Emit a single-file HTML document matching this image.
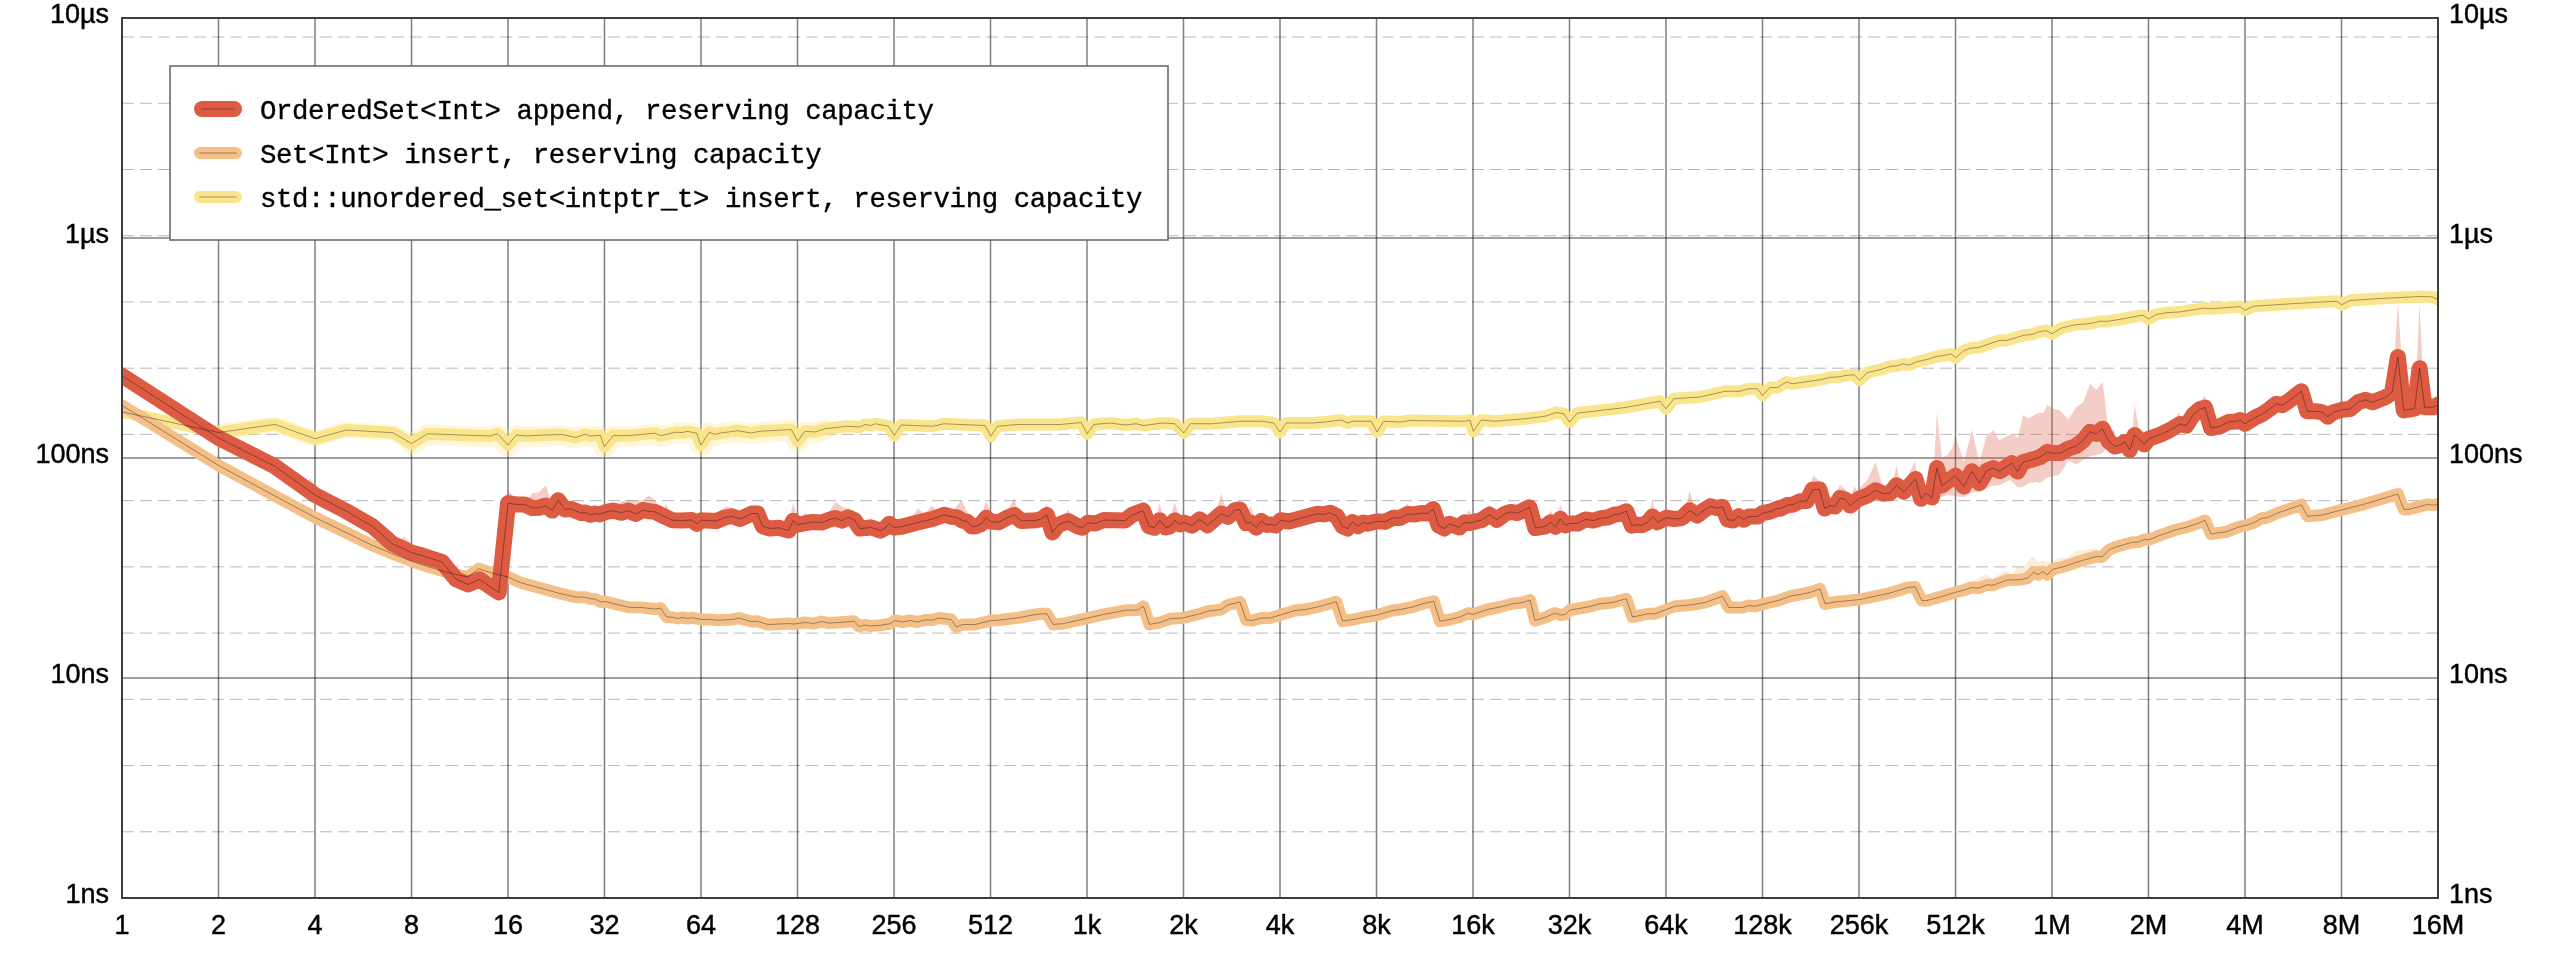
<!DOCTYPE html>
<html><head><meta charset="utf-8"><title>chart</title>
<style>
html,body{margin:0;padding:0;background:#fff;}
body{width:2560px;height:960px;overflow:hidden;}
svg{display:block;will-change:transform;}
.ax{font-family:"Liberation Sans",sans-serif;font-size:27px;fill:#000;stroke:#000;stroke-width:0.45px;}
.lg{font-family:"Liberation Mono",monospace;font-size:27.4px;fill:#000;letter-spacing:-0.4px;stroke:#000;stroke-width:0.35px;}
</style></head><body>
<svg width="2560" height="960" viewBox="0 0 2560 960">
<rect x="0" y="0" width="2560" height="960" fill="#ffffff"/>
<defs><clipPath id="plot"><rect x="122" y="18" width="2316" height="880"/></clipPath></defs>
<g stroke="#000" stroke-opacity="0.28" stroke-width="1" stroke-dasharray="12 6" fill="none">
<line x1="122" y1="831.77" x2="2438" y2="831.77"/>
<line x1="122" y1="765.55" x2="2438" y2="765.55"/>
<line x1="122" y1="699.32" x2="2438" y2="699.32"/>
<line x1="122" y1="633.09" x2="2438" y2="633.09"/>
<line x1="122" y1="566.87" x2="2438" y2="566.87"/>
<line x1="122" y1="500.64" x2="2438" y2="500.64"/>
<line x1="122" y1="434.41" x2="2438" y2="434.41"/>
<line x1="122" y1="368.19" x2="2438" y2="368.19"/>
<line x1="122" y1="301.96" x2="2438" y2="301.96"/>
<line x1="122" y1="235.73" x2="2438" y2="235.73"/>
<line x1="122" y1="169.51" x2="2438" y2="169.51"/>
<line x1="122" y1="103.28" x2="2438" y2="103.28"/>
<line x1="122" y1="37.05" x2="2438" y2="37.05"/>
</g>
<g stroke="#000" stroke-opacity="0.5" stroke-width="1.5" fill="none">
<line x1="218.50" y1="18" x2="218.50" y2="898"/>
<line x1="315.00" y1="18" x2="315.00" y2="898"/>
<line x1="411.50" y1="18" x2="411.50" y2="898"/>
<line x1="508.00" y1="18" x2="508.00" y2="898"/>
<line x1="604.50" y1="18" x2="604.50" y2="898"/>
<line x1="701.00" y1="18" x2="701.00" y2="898"/>
<line x1="797.50" y1="18" x2="797.50" y2="898"/>
<line x1="894.00" y1="18" x2="894.00" y2="898"/>
<line x1="990.50" y1="18" x2="990.50" y2="898"/>
<line x1="1087.00" y1="18" x2="1087.00" y2="898"/>
<line x1="1183.50" y1="18" x2="1183.50" y2="898"/>
<line x1="1280.00" y1="18" x2="1280.00" y2="898"/>
<line x1="1376.50" y1="18" x2="1376.50" y2="898"/>
<line x1="1473.00" y1="18" x2="1473.00" y2="898"/>
<line x1="1569.50" y1="18" x2="1569.50" y2="898"/>
<line x1="1666.00" y1="18" x2="1666.00" y2="898"/>
<line x1="1762.50" y1="18" x2="1762.50" y2="898"/>
<line x1="1859.00" y1="18" x2="1859.00" y2="898"/>
<line x1="1955.50" y1="18" x2="1955.50" y2="898"/>
<line x1="2052.00" y1="18" x2="2052.00" y2="898"/>
<line x1="2148.50" y1="18" x2="2148.50" y2="898"/>
<line x1="2245.00" y1="18" x2="2245.00" y2="898"/>
<line x1="2341.50" y1="18" x2="2341.50" y2="898"/>
<line x1="122" y1="678.00" x2="2438" y2="678.00"/>
<line x1="122" y1="458.00" x2="2438" y2="458.00"/>
<line x1="122" y1="238.00" x2="2438" y2="238.00"/>
</g>
<g clip-path="url(#plot)" fill="none" stroke-linejoin="round" stroke-linecap="round">
<polyline points="218.50,432.50 275.00,424.40 315.00,438.75 346.25,430.00 372.50,431.50 393.10,432.75 411.50,443.50" stroke="#fbe58c" stroke-opacity="0.3" stroke-width="16"/>
<polyline points="411.50,443.50 427.50,433.75 467.50,435.25 490.00,436.00 497.50,433.75 508.00,445.00 516.25,435.00 525.00,436.00 545.00,435.00 562.50,434.50 575.60,437.50 585.00,434.25 590.60,436.00 600.30,435.30 604.40,446.60 613.10,435.60 628.75,435.60 655.00,433.10 660.60,435.75 675.60,432.20 682.50,432.50 686.90,431.40 696.60,433.10 700.90,445.00 709.40,432.20 715.00,434.40 720.00,433.10 737.50,430.75 751.25,433.00 760.00,431.25 791.25,429.50 797.75,441.25 805.00,431.25 815.00,432.00 825.00,428.75" stroke="#fbe58c" stroke-opacity="0.3" stroke-width="21" transform="translate(0,1)"/>
<polygon points="1970.00,583.00 1986.25,573.75 1992.50,578.75 2005.60,570.60 2012.50,575.00 2017.50,566.25 2023.75,566.90 2033.10,556.25 2038.10,562.50 2042.50,560.60 2050.00,562.50 2060.00,558.10 2067.50,557.50 2076.25,551.25 2096.25,548.10 2100.00,552.00 2096.25,558.00 2077.50,563.40 2065.00,567.75 2052.50,570.90 2047.50,576.25 2042.50,573.00 2038.10,576.25 2033.50,573.75 2027.50,579.60 2020.00,581.25 2007.50,581.50 2003.75,582.75 1993.10,586.75 1987.50,586.25 1978.75,589.60 1971.25,589.00" fill="#f5c087" fill-opacity="0.3" stroke="none"/>
<g fill="#dc5b42" fill-opacity="0.3" stroke="none">
<polygon points="306.00,486.00 310.00,478.50 318.00,488.00"/>
<polygon points="398.00,542.00 404.00,536.50 411.00,543.00"/>
<polygon points="505.00,500.00 508.00,490.60 514.00,497.00"/>
<polygon points="528.00,500.00 532.50,493.00 538.75,492.50 545.60,485.25 550.00,497.50 551.00,503.00"/>
<polygon points="618.00,505.00 620.00,502.00 627.50,500.00 642.50,500.60 648.75,495.60 655.60,500.60 658.00,507.00"/>
<polygon points="663.00,510.00 666.25,503.75 670.00,512.00"/>
<polygon points="720.00,511.00 726.25,506.25 733.00,508.00 736.00,512.00"/>
<polygon points="791.00,512.00 793.10,503.75 795.50,512.00"/>
<polygon points="802.00,516.00 805.50,512.50 809.00,515.00"/>
<polygon points="828.00,513.00 835.60,501.90 841.25,506.25 848.00,508.75 852.00,512.00"/>
<polygon points="913.00,516.00 918.10,508.10 923.00,513.00 927.50,511.00 931.90,505.60 936.00,510.50 938.00,513.00"/>
<polygon points="953.00,511.00 961.25,500.00 968.00,513.00"/>
<polygon points="982.00,513.00 986.25,500.60 990.50,513.00"/>
<polygon points="1007.00,511.00 1014.40,498.00 1017.50,510.00"/>
<polygon points="1044.50,509.00 1046.50,503.75 1048.50,509.00"/>
<polygon points="1066.00,513.00 1068.10,509.40 1070.50,513.00"/>
<polygon points="1157.50,512.00 1159.60,503.75 1162.00,512.00"/>
<polygon points="1172.00,512.00 1174.60,502.25 1178.00,513.00"/>
<polygon points="1217.50,506.00 1221.25,493.75 1225.50,508.00"/>
<polygon points="1232.00,503.50 1233.75,501.25 1236.00,502.50"/>
<polygon points="1248.00,514.00 1250.25,505.25 1253.50,515.00"/>
<polygon points="1405.00,507.00 1407.50,503.10 1410.00,507.00"/>
<polygon points="1465.50,516.00 1468.50,510.00 1472.50,515.00"/>
<polygon points="1486.50,508.00 1489.40,504.40 1492.00,508.00"/>
<polygon points="1548.50,515.00 1550.60,510.60 1553.00,515.00"/>
<polygon points="1558.00,512.00 1560.25,505.00 1563.00,512.00"/>
<polygon points="1650.50,509.00 1652.50,499.75 1654.50,509.00"/>
<polygon points="1686.50,503.00 1689.70,490.60 1693.50,504.00"/>
<polygon points="1707.00,500.00 1710.00,497.50 1713.00,500.00"/>
<polygon points="1811.00,483.00 1813.40,475.60 1819.50,481.00 1821.00,484.00"/>
<polygon points="1837.00,491.00 1840.00,484.40 1847.00,491.00"/>
<polygon points="1852.00,493.00 1854.60,486.50 1858.00,492.00"/>
<polygon points="1858.00,490.00 1860.00,487.50 1867.50,480.00 1875.60,461.90 1881.90,483.75 1883.00,494.00"/>
<polygon points="1892.00,487.00 1896.50,465.00 1901.00,488.00"/>
<polygon points="1907.00,482.00 1908.75,473.75 1915.00,461.25 1918.00,480.00"/>
<polygon points="2111.00,440.00 2113.75,426.90 2117.00,446.00"/>
<polygon points="2131.50,445.00 2134.60,405.00 2141.50,442.00"/>
<polygon points="2175.00,420.00 2178.75,412.50 2182.00,418.00"/>
<polygon points="2201.00,402.00 2204.40,395.00 2207.00,402.00"/>
<polygon points="2394.30,358.00 2398.00,303.00 2401.60,358.00"/>
<polygon points="2416.60,369.00 2419.60,304.00 2422.60,369.00"/>
<polygon points="1934.00,480.00 1934.50,458.00 1936.90,412.50 1941.90,458.00 1947.50,455.00 1952.50,447.50 1955.50,435.60 1960.00,450.00 1963.75,461.90 1971.90,430.00 1979.40,462.50 1986.25,436.25 1993.10,430.00 1999.40,440.00 2011.90,433.75 2018.10,437.50 2023.10,415.00 2028.10,418.75 2036.25,413.75 2043.75,412.50 2047.50,405.00 2052.50,408.75 2060.00,410.60 2068.10,419.40 2076.25,406.90 2083.10,402.50 2090.00,383.75 2096.25,390.00 2102.50,381.90 2105.00,400.00 2107.50,423.75 2109.00,441.00 2105.00,450.00 2101.25,453.75 2090.00,456.25 2083.10,460.00 2076.25,464.40 2068.00,460.60 2063.75,468.10 2058.75,475.00 2047.50,477.50 2040.00,483.10 2036.25,481.90 2028.75,483.10 2023.10,486.90 2018.10,487.50 2010.00,480.00 2000.00,485.00 1990.00,486.25 1980.00,491.90 1972.50,492.50 1963.75,496.90 1955.50,496.25 1947.50,495.00 1940.00,497.50 1936.00,497.00"/>
</g>
<polyline points="122.00,411.90 218.50,432.50 275.00,424.40 315.00,438.75 346.25,430.00 372.50,431.50 393.10,432.75 411.50,443.50 427.50,433.75 467.50,435.25 490.00,436.00 497.50,433.75 508.00,445.00 516.25,435.00 525.00,436.00 545.00,435.00 562.50,434.50 575.60,437.50 585.00,434.25 590.60,436.00 600.30,435.30 604.40,446.60 613.10,435.60 628.75,435.60 655.00,433.10 660.60,435.75 675.60,432.20 682.50,432.50 686.90,431.40 696.60,433.10 700.90,445.00 709.40,432.20 715.00,434.40 720.00,433.10 737.50,430.75 751.25,433.00 760.00,431.25 791.25,429.50 797.75,441.25 805.00,431.25 815.00,432.00 825.00,428.75 847.50,426.25 860.00,427.00 865.00,424.50 871.00,425.50 875.00,423.75 888.75,426.25 894.25,435.50 901.25,425.00 932.50,426.25 943.75,423.75 985.00,425.50 990.75,436.25 997.50,426.25 1017.50,424.50 1060.00,424.50 1081.25,422.50 1087.25,433.75 1093.75,424.50 1110.00,423.00 1125.00,425.00 1136.25,423.75 1143.75,425.50 1162.50,423.00 1175.00,423.75 1183.75,433.00 1190.50,423.75 1212.50,423.75 1240.00,421.25 1262.50,421.25 1273.75,423.00 1280.00,432.00 1286.25,423.00 1312.50,423.00 1325.00,422.00 1341.25,420.00 1347.50,423.00 1352.50,421.25 1371.25,421.25 1377.00,432.00 1383.75,421.25 1400.00,422.00 1410.00,420.50 1465.00,421.25 1470.00,420.00 1473.25,431.25 1481.25,420.00 1495.00,421.25 1525.00,418.75 1545.00,416.25 1556.25,412.50 1563.75,413.75 1569.50,422.00 1577.50,413.00 1600.00,410.50 1625.00,407.50 1660.00,401.25 1666.00,408.75 1673.75,398.75 1700.00,397.00 1725.00,391.25 1740.00,391.25 1748.75,388.75 1757.50,388.75 1762.50,395.50 1770.00,387.50 1777.50,387.50 1786.25,382.00 1792.50,383.75 1820.00,379.75 1831.25,377.25 1838.75,376.90 1845.00,375.60 1854.40,374.75 1859.40,380.25 1867.50,372.50 1881.25,369.40 1890.60,366.25 1896.25,366.00 1903.10,364.00 1909.40,365.00 1916.25,361.90 1928.75,359.00 1936.90,356.25 1941.25,356.00 1951.25,354.00 1955.60,357.75 1963.75,350.60 1971.25,348.10 1978.75,347.50 2000.00,340.25 2006.25,340.60 2023.75,335.25 2032.50,334.40 2038.75,331.90 2046.25,330.60 2051.90,333.75 2061.25,328.10 2075.00,324.75 2086.25,324.00 2093.75,322.75 2100.00,321.20 2107.50,321.40 2125.00,318.50 2140.00,315.60 2143.75,315.60 2148.50,319.00 2156.25,314.40 2166.25,312.75 2180.00,311.90 2203.75,308.10 2212.50,308.75 2240.00,306.50 2245.00,310.25 2253.10,306.25 2287.50,304.00 2312.50,302.50 2336.90,301.25 2341.50,304.75 2350.00,300.60 2375.00,298.75 2420.00,296.50 2432.50,296.90 2438.00,299.75" stroke="#fbe58c" stroke-width="12"/>
<polyline points="122.00,405.40 218.50,465.40 275.00,496.00 315.00,517.50 346.00,532.50 371.50,545.00 392.50,553.75 411.00,561.00 427.50,566.50 442.50,571.00 456.00,574.50 467.50,577.00 478.75,568.75 490.00,572.50 508.00,577.00 520.00,582.50 560.00,593.50 575.00,596.90 585.00,597.25 590.00,598.75 595.00,599.00 600.60,601.90 605.00,601.50 615.00,604.00 628.75,607.25 641.25,607.50 655.00,609.00 660.60,608.10 666.50,616.90 672.50,617.25 677.50,618.50 681.90,617.50 687.50,618.50 692.50,617.75 701.25,619.40 708.75,619.40 717.50,620.25 732.50,619.40 738.75,618.10 751.25,621.50 756.90,621.25 767.50,624.40 772.50,624.40 787.50,623.50 793.75,624.00 805.00,622.50 813.75,623.50 821.25,621.50 828.75,623.10 841.25,622.25 853.75,621.25 859.40,626.50 865.00,625.00 870.00,626.00 880.00,625.25 890.00,623.75 895.00,620.50 902.50,622.00 910.00,620.50 917.50,622.00 925.00,620.00 932.50,620.00 938.75,618.00 951.25,619.50 956.25,627.00 962.50,624.50 975.00,624.50 991.25,620.50 1000.00,620.00 1020.00,617.50 1032.50,615.00 1041.25,613.75 1046.90,613.75 1053.10,624.40 1062.50,623.75 1087.50,618.10 1103.75,614.40 1117.50,611.90 1125.00,610.25 1137.50,610.00 1143.50,606.25 1149.40,624.40 1160.00,622.50 1170.00,618.75 1182.50,618.00 1200.00,613.75 1207.50,611.25 1221.25,609.50 1227.50,605.00 1240.00,602.00 1246.25,620.00 1252.50,620.50 1261.25,618.00 1270.00,618.00 1295.00,610.50 1305.00,609.50 1317.50,607.00 1336.25,601.75 1342.50,621.00 1353.75,619.50 1365.00,617.00 1377.50,615.00 1392.50,610.50 1400.00,609.50 1412.50,607.00 1422.50,603.75 1433.75,601.25 1440.00,621.25 1450.00,619.50 1460.00,617.00 1468.75,613.00 1472.50,614.50 1487.50,609.50 1500.00,607.00 1512.50,603.75 1522.50,602.50 1530.00,600.00 1535.00,620.50 1545.00,617.50 1555.00,613.00 1560.00,615.00 1565.00,614.50 1570.00,610.00 1587.50,607.00 1600.00,603.75 1612.50,602.50 1626.25,598.75 1632.50,617.00 1642.50,615.00 1647.50,613.75 1655.00,613.75 1675.00,606.25 1690.00,605.00 1705.00,602.50 1722.50,596.25 1728.75,607.50 1742.50,607.50 1748.75,605.50 1755.00,606.25 1767.50,603.00 1780.00,600.00 1790.00,596.25 1810.00,592.50 1820.00,588.75 1825.00,603.75 1835.00,602.00 1850.00,600.50 1860.00,599.50 1875.00,596.25 1890.00,593.00 1900.00,590.00 1907.50,587.50 1915.00,586.90 1921.90,600.60 1926.90,600.60 1942.50,596.25 1955.60,592.25 1963.75,590.25 1971.25,587.50 1978.75,588.10 1987.50,584.75 1993.10,585.25 2003.75,581.25 2007.50,580.00 2020.00,579.75 2027.50,578.10 2033.50,572.25 2038.10,574.75 2042.50,571.50 2047.50,574.75 2052.50,569.40 2065.00,566.25 2077.50,561.90 2096.25,556.50 2101.90,556.90 2108.75,550.00 2115.00,547.25 2131.25,542.50 2138.75,541.90 2144.40,539.40 2148.75,539.75 2162.50,534.40 2175.00,530.00 2185.00,527.60 2197.50,523.60 2205.00,520.40 2211.10,534.10 2221.25,532.30 2226.25,531.90 2238.75,526.90 2245.00,525.60 2253.75,522.75 2261.25,518.50 2267.50,517.50 2277.50,513.10 2290.00,508.75 2301.25,504.75 2307.50,516.25 2322.50,515.00 2341.25,510.00 2361.25,505.00 2380.00,499.40 2397.75,494.00 2403.75,509.40 2408.75,509.40 2427.50,504.40 2433.75,505.25 2438.00,504.00" stroke="#f5c087" stroke-width="12"/>
<polyline points="122.00,375.60 218.50,437.90 275.00,466.40 315.00,495.00 346.00,511.00 372.50,526.25 392.50,543.75 411.25,552.50 420.00,555.00 441.90,561.90 456.25,579.40 468.10,584.40 479.40,579.40 498.75,592.50 508.10,503.10 516.25,504.40 524.40,504.40 532.50,508.10 538.75,507.75 545.60,505.60 552.25,510.60 558.10,500.25 564.75,509.40 571.25,509.00 581.25,513.10 585.00,512.50 590.60,514.75 595.00,513.50 600.00,514.40 606.25,511.90 613.10,510.60 621.25,512.75 628.10,510.60 635.60,514.00 643.10,510.00 648.75,511.25 655.00,511.90 663.75,516.25 672.50,520.25 682.50,520.60 691.90,520.00 696.90,523.75 701.25,520.25 716.25,521.00 725.00,517.50 731.90,516.25 740.00,519.00 751.90,513.50 757.50,513.50 762.75,526.25 770.00,528.50 778.75,527.75 788.75,530.60 793.10,520.60 797.75,524.75 812.50,521.90 821.90,522.50 830.00,519.40 835.25,518.10 841.90,520.60 848.10,517.25 854.40,520.00 860.00,528.50 866.25,528.10 870.60,527.25 880.60,530.60 885.00,528.10 889.40,523.75 894.40,527.50 902.50,526.50 917.50,522.50 932.50,519.00 944.40,514.75 952.50,516.90 957.50,517.50 962.50,520.60 966.90,521.50 971.90,526.50 976.25,526.25 981.25,524.00 986.25,517.75 990.60,521.50 998.75,522.25 1007.50,517.50 1014.40,515.00 1021.25,521.00 1036.25,520.25 1041.25,519.00 1046.90,515.00 1052.50,532.50 1058.10,525.00 1060.00,524.20 1068.10,521.00 1077.50,526.25 1082.50,527.75 1087.75,522.75 1095.60,523.50 1103.75,520.00 1125.00,520.60 1131.90,515.00 1143.10,510.60 1149.00,526.25 1154.40,527.75 1159.75,520.25 1165.60,527.50 1169.75,526.50 1174.75,520.25 1179.75,524.40 1183.75,522.50 1191.90,525.60 1199.75,519.40 1207.50,525.25 1221.25,513.50 1228.10,516.90 1234.40,510.60 1239.75,509.40 1246.00,523.10 1250.60,522.50 1256.25,527.75 1261.25,521.00 1266.90,525.00 1271.25,524.40 1275.60,525.60 1280.60,520.25 1288.75,521.50 1303.75,517.50 1317.50,513.75 1323.75,514.40 1330.00,512.75 1336.90,516.25 1342.50,526.25 1347.50,528.50 1352.50,521.90 1358.10,526.25 1363.10,522.50 1367.50,523.75 1376.25,521.50 1380.00,521.40 1385.00,521.90 1393.10,517.75 1400.00,518.10 1407.50,514.00 1415.00,514.40 1421.25,513.10 1427.50,513.50 1433.10,509.00 1438.75,525.60 1444.40,528.50 1449.40,523.75 1459.40,527.50 1464.40,522.25 1468.75,523.10 1473.75,521.90 1481.25,520.25 1489.40,514.75 1496.90,519.75 1505.00,513.75 1510.60,511.90 1517.50,513.10 1529.40,507.25 1535.25,528.10 1545.60,526.25 1550.60,522.25 1555.60,526.90 1560.25,518.75 1565.60,525.25 1570.00,523.50 1577.50,523.50 1585.60,519.40 1593.10,520.60 1601.25,518.10 1607.50,517.50 1615.00,514.40 1620.00,514.00 1626.25,511.25 1631.90,525.60 1637.50,524.75 1641.90,525.25 1647.50,522.50 1652.50,516.50 1657.50,522.25 1666.25,517.75 1674.40,519.00 1680.00,518.40 1682.50,517.50 1689.70,510.30 1697.20,515.50 1704.70,509.70 1710.30,506.25 1716.90,508.10 1722.50,506.90 1727.80,519.70 1733.40,520.50 1738.75,516.25 1743.75,519.70 1748.75,516.60 1758.10,516.40 1762.50,513.10 1770.00,511.60 1778.75,508.10 1780.00,508.75 1787.50,505.00 1792.50,504.75 1800.00,501.25 1806.90,501.00 1812.50,489.75 1819.40,489.40 1824.75,508.50 1830.00,505.60 1835.00,506.50 1840.00,498.10 1845.00,499.40 1850.25,505.60 1855.00,501.50 1859.00,498.75 1867.50,495.60 1875.60,490.25 1883.10,493.75 1890.00,493.10 1896.50,485.25 1903.75,491.90 1915.60,479.00 1921.00,498.75 1926.25,493.10 1931.90,497.50 1936.90,468.10 1941.90,485.60 1955.50,475.60 1963.75,486.50 1971.90,471.25 1979.40,483.10 1986.90,470.60 1993.10,468.10 2000.00,471.25 2011.90,463.10 2017.50,471.50 2023.10,462.25 2040.00,457.20 2047.50,451.90 2051.25,453.10 2060.60,453.10 2068.10,448.75 2075.60,446.25 2083.10,440.60 2090.00,431.90 2096.25,434.00 2102.50,428.75 2108.75,441.25 2115.00,446.50 2120.00,445.00 2125.00,441.90 2129.75,450.00 2134.60,435.00 2144.40,444.40 2148.75,438.75 2160.00,434.75 2170.00,430.00 2180.00,424.00 2186.25,425.60 2193.10,415.00 2199.40,409.40 2205.00,407.50 2211.00,428.10 2220.00,426.25 2228.75,421.90 2236.25,421.50 2240.00,420.00 2245.00,423.75 2255.00,417.50 2262.50,414.00 2270.00,408.75 2276.25,403.75 2282.50,405.25 2290.00,400.00 2301.25,391.25 2307.25,411.25 2315.00,411.25 2320.00,411.80 2323.30,412.70 2327.90,416.70 2332.90,412.50 2341.70,409.80 2350.00,409.00 2358.30,402.10 2365.40,399.80 2372.50,402.30 2385.80,397.10 2392.10,392.50 2397.90,357.10 2403.75,410.40 2414.60,408.50 2419.60,368.30 2424.60,407.30 2433.30,407.30 2438.00,404.60" stroke="#dc5b42" stroke-width="16"/>
<g stroke="#000" stroke-opacity="0.36" stroke-width="1" stroke-linejoin="miter" stroke-linecap="butt">
<polyline points="122.00,411.90 218.50,432.50 275.00,424.40 315.00,438.75 346.25,430.00 372.50,431.50 393.10,432.75 411.50,443.50 427.50,433.75 467.50,435.25 490.00,436.00 497.50,433.75 508.00,445.00 516.25,435.00 525.00,436.00 545.00,435.00 562.50,434.50 575.60,437.50 585.00,434.25 590.60,436.00 600.30,435.30 604.40,446.60 613.10,435.60 628.75,435.60 655.00,433.10 660.60,435.75 675.60,432.20 682.50,432.50 686.90,431.40 696.60,433.10 700.90,445.00 709.40,432.20 715.00,434.40 720.00,433.10 737.50,430.75 751.25,433.00 760.00,431.25 791.25,429.50 797.75,441.25 805.00,431.25 815.00,432.00 825.00,428.75 847.50,426.25 860.00,427.00 865.00,424.50 871.00,425.50 875.00,423.75 888.75,426.25 894.25,435.50 901.25,425.00 932.50,426.25 943.75,423.75 985.00,425.50 990.75,436.25 997.50,426.25 1017.50,424.50 1060.00,424.50 1081.25,422.50 1087.25,433.75 1093.75,424.50 1110.00,423.00 1125.00,425.00 1136.25,423.75 1143.75,425.50 1162.50,423.00 1175.00,423.75 1183.75,433.00 1190.50,423.75 1212.50,423.75 1240.00,421.25 1262.50,421.25 1273.75,423.00 1280.00,432.00 1286.25,423.00 1312.50,423.00 1325.00,422.00 1341.25,420.00 1347.50,423.00 1352.50,421.25 1371.25,421.25 1377.00,432.00 1383.75,421.25 1400.00,422.00 1410.00,420.50 1465.00,421.25 1470.00,420.00 1473.25,431.25 1481.25,420.00 1495.00,421.25 1525.00,418.75 1545.00,416.25 1556.25,412.50 1563.75,413.75 1569.50,422.00 1577.50,413.00 1600.00,410.50 1625.00,407.50 1660.00,401.25 1666.00,408.75 1673.75,398.75 1700.00,397.00 1725.00,391.25 1740.00,391.25 1748.75,388.75 1757.50,388.75 1762.50,395.50 1770.00,387.50 1777.50,387.50 1786.25,382.00 1792.50,383.75 1820.00,379.75 1831.25,377.25 1838.75,376.90 1845.00,375.60 1854.40,374.75 1859.40,380.25 1867.50,372.50 1881.25,369.40 1890.60,366.25 1896.25,366.00 1903.10,364.00 1909.40,365.00 1916.25,361.90 1928.75,359.00 1936.90,356.25 1941.25,356.00 1951.25,354.00 1955.60,357.75 1963.75,350.60 1971.25,348.10 1978.75,347.50 2000.00,340.25 2006.25,340.60 2023.75,335.25 2032.50,334.40 2038.75,331.90 2046.25,330.60 2051.90,333.75 2061.25,328.10 2075.00,324.75 2086.25,324.00 2093.75,322.75 2100.00,321.20 2107.50,321.40 2125.00,318.50 2140.00,315.60 2143.75,315.60 2148.50,319.00 2156.25,314.40 2166.25,312.75 2180.00,311.90 2203.75,308.10 2212.50,308.75 2240.00,306.50 2245.00,310.25 2253.10,306.25 2287.50,304.00 2312.50,302.50 2336.90,301.25 2341.50,304.75 2350.00,300.60 2375.00,298.75 2420.00,296.50 2432.50,296.90 2438.00,299.75"/>
<polyline points="122.00,405.40 218.50,465.40 275.00,496.00 315.00,517.50 346.00,532.50 371.50,545.00 392.50,553.75 411.00,561.00 427.50,566.50 442.50,571.00 456.00,574.50 467.50,577.00 478.75,568.75 490.00,572.50 508.00,577.00 520.00,582.50 560.00,593.50 575.00,596.90 585.00,597.25 590.00,598.75 595.00,599.00 600.60,601.90 605.00,601.50 615.00,604.00 628.75,607.25 641.25,607.50 655.00,609.00 660.60,608.10 666.50,616.90 672.50,617.25 677.50,618.50 681.90,617.50 687.50,618.50 692.50,617.75 701.25,619.40 708.75,619.40 717.50,620.25 732.50,619.40 738.75,618.10 751.25,621.50 756.90,621.25 767.50,624.40 772.50,624.40 787.50,623.50 793.75,624.00 805.00,622.50 813.75,623.50 821.25,621.50 828.75,623.10 841.25,622.25 853.75,621.25 859.40,626.50 865.00,625.00 870.00,626.00 880.00,625.25 890.00,623.75 895.00,620.50 902.50,622.00 910.00,620.50 917.50,622.00 925.00,620.00 932.50,620.00 938.75,618.00 951.25,619.50 956.25,627.00 962.50,624.50 975.00,624.50 991.25,620.50 1000.00,620.00 1020.00,617.50 1032.50,615.00 1041.25,613.75 1046.90,613.75 1053.10,624.40 1062.50,623.75 1087.50,618.10 1103.75,614.40 1117.50,611.90 1125.00,610.25 1137.50,610.00 1143.50,606.25 1149.40,624.40 1160.00,622.50 1170.00,618.75 1182.50,618.00 1200.00,613.75 1207.50,611.25 1221.25,609.50 1227.50,605.00 1240.00,602.00 1246.25,620.00 1252.50,620.50 1261.25,618.00 1270.00,618.00 1295.00,610.50 1305.00,609.50 1317.50,607.00 1336.25,601.75 1342.50,621.00 1353.75,619.50 1365.00,617.00 1377.50,615.00 1392.50,610.50 1400.00,609.50 1412.50,607.00 1422.50,603.75 1433.75,601.25 1440.00,621.25 1450.00,619.50 1460.00,617.00 1468.75,613.00 1472.50,614.50 1487.50,609.50 1500.00,607.00 1512.50,603.75 1522.50,602.50 1530.00,600.00 1535.00,620.50 1545.00,617.50 1555.00,613.00 1560.00,615.00 1565.00,614.50 1570.00,610.00 1587.50,607.00 1600.00,603.75 1612.50,602.50 1626.25,598.75 1632.50,617.00 1642.50,615.00 1647.50,613.75 1655.00,613.75 1675.00,606.25 1690.00,605.00 1705.00,602.50 1722.50,596.25 1728.75,607.50 1742.50,607.50 1748.75,605.50 1755.00,606.25 1767.50,603.00 1780.00,600.00 1790.00,596.25 1810.00,592.50 1820.00,588.75 1825.00,603.75 1835.00,602.00 1850.00,600.50 1860.00,599.50 1875.00,596.25 1890.00,593.00 1900.00,590.00 1907.50,587.50 1915.00,586.90 1921.90,600.60 1926.90,600.60 1942.50,596.25 1955.60,592.25 1963.75,590.25 1971.25,587.50 1978.75,588.10 1987.50,584.75 1993.10,585.25 2003.75,581.25 2007.50,580.00 2020.00,579.75 2027.50,578.10 2033.50,572.25 2038.10,574.75 2042.50,571.50 2047.50,574.75 2052.50,569.40 2065.00,566.25 2077.50,561.90 2096.25,556.50 2101.90,556.90 2108.75,550.00 2115.00,547.25 2131.25,542.50 2138.75,541.90 2144.40,539.40 2148.75,539.75 2162.50,534.40 2175.00,530.00 2185.00,527.60 2197.50,523.60 2205.00,520.40 2211.10,534.10 2221.25,532.30 2226.25,531.90 2238.75,526.90 2245.00,525.60 2253.75,522.75 2261.25,518.50 2267.50,517.50 2277.50,513.10 2290.00,508.75 2301.25,504.75 2307.50,516.25 2322.50,515.00 2341.25,510.00 2361.25,505.00 2380.00,499.40 2397.75,494.00 2403.75,509.40 2408.75,509.40 2427.50,504.40 2433.75,505.25 2438.00,504.00"/>
<polyline points="122.00,375.60 218.50,437.90 275.00,466.40 315.00,495.00 346.00,511.00 372.50,526.25 392.50,543.75 411.25,552.50 420.00,555.00 441.90,561.90 456.25,579.40 468.10,584.40 479.40,579.40 498.75,592.50 508.10,503.10 516.25,504.40 524.40,504.40 532.50,508.10 538.75,507.75 545.60,505.60 552.25,510.60 558.10,500.25 564.75,509.40 571.25,509.00 581.25,513.10 585.00,512.50 590.60,514.75 595.00,513.50 600.00,514.40 606.25,511.90 613.10,510.60 621.25,512.75 628.10,510.60 635.60,514.00 643.10,510.00 648.75,511.25 655.00,511.90 663.75,516.25 672.50,520.25 682.50,520.60 691.90,520.00 696.90,523.75 701.25,520.25 716.25,521.00 725.00,517.50 731.90,516.25 740.00,519.00 751.90,513.50 757.50,513.50 762.75,526.25 770.00,528.50 778.75,527.75 788.75,530.60 793.10,520.60 797.75,524.75 812.50,521.90 821.90,522.50 830.00,519.40 835.25,518.10 841.90,520.60 848.10,517.25 854.40,520.00 860.00,528.50 866.25,528.10 870.60,527.25 880.60,530.60 885.00,528.10 889.40,523.75 894.40,527.50 902.50,526.50 917.50,522.50 932.50,519.00 944.40,514.75 952.50,516.90 957.50,517.50 962.50,520.60 966.90,521.50 971.90,526.50 976.25,526.25 981.25,524.00 986.25,517.75 990.60,521.50 998.75,522.25 1007.50,517.50 1014.40,515.00 1021.25,521.00 1036.25,520.25 1041.25,519.00 1046.90,515.00 1052.50,532.50 1058.10,525.00 1060.00,524.20 1068.10,521.00 1077.50,526.25 1082.50,527.75 1087.75,522.75 1095.60,523.50 1103.75,520.00 1125.00,520.60 1131.90,515.00 1143.10,510.60 1149.00,526.25 1154.40,527.75 1159.75,520.25 1165.60,527.50 1169.75,526.50 1174.75,520.25 1179.75,524.40 1183.75,522.50 1191.90,525.60 1199.75,519.40 1207.50,525.25 1221.25,513.50 1228.10,516.90 1234.40,510.60 1239.75,509.40 1246.00,523.10 1250.60,522.50 1256.25,527.75 1261.25,521.00 1266.90,525.00 1271.25,524.40 1275.60,525.60 1280.60,520.25 1288.75,521.50 1303.75,517.50 1317.50,513.75 1323.75,514.40 1330.00,512.75 1336.90,516.25 1342.50,526.25 1347.50,528.50 1352.50,521.90 1358.10,526.25 1363.10,522.50 1367.50,523.75 1376.25,521.50 1380.00,521.40 1385.00,521.90 1393.10,517.75 1400.00,518.10 1407.50,514.00 1415.00,514.40 1421.25,513.10 1427.50,513.50 1433.10,509.00 1438.75,525.60 1444.40,528.50 1449.40,523.75 1459.40,527.50 1464.40,522.25 1468.75,523.10 1473.75,521.90 1481.25,520.25 1489.40,514.75 1496.90,519.75 1505.00,513.75 1510.60,511.90 1517.50,513.10 1529.40,507.25 1535.25,528.10 1545.60,526.25 1550.60,522.25 1555.60,526.90 1560.25,518.75 1565.60,525.25 1570.00,523.50 1577.50,523.50 1585.60,519.40 1593.10,520.60 1601.25,518.10 1607.50,517.50 1615.00,514.40 1620.00,514.00 1626.25,511.25 1631.90,525.60 1637.50,524.75 1641.90,525.25 1647.50,522.50 1652.50,516.50 1657.50,522.25 1666.25,517.75 1674.40,519.00 1680.00,518.40 1682.50,517.50 1689.70,510.30 1697.20,515.50 1704.70,509.70 1710.30,506.25 1716.90,508.10 1722.50,506.90 1727.80,519.70 1733.40,520.50 1738.75,516.25 1743.75,519.70 1748.75,516.60 1758.10,516.40 1762.50,513.10 1770.00,511.60 1778.75,508.10 1780.00,508.75 1787.50,505.00 1792.50,504.75 1800.00,501.25 1806.90,501.00 1812.50,489.75 1819.40,489.40 1824.75,508.50 1830.00,505.60 1835.00,506.50 1840.00,498.10 1845.00,499.40 1850.25,505.60 1855.00,501.50 1859.00,498.75 1867.50,495.60 1875.60,490.25 1883.10,493.75 1890.00,493.10 1896.50,485.25 1903.75,491.90 1915.60,479.00 1921.00,498.75 1926.25,493.10 1931.90,497.50 1936.90,468.10 1941.90,485.60 1955.50,475.60 1963.75,486.50 1971.90,471.25 1979.40,483.10 1986.90,470.60 1993.10,468.10 2000.00,471.25 2011.90,463.10 2017.50,471.50 2023.10,462.25 2040.00,457.20 2047.50,451.90 2051.25,453.10 2060.60,453.10 2068.10,448.75 2075.60,446.25 2083.10,440.60 2090.00,431.90 2096.25,434.00 2102.50,428.75 2108.75,441.25 2115.00,446.50 2120.00,445.00 2125.00,441.90 2129.75,450.00 2134.60,435.00 2144.40,444.40 2148.75,438.75 2160.00,434.75 2170.00,430.00 2180.00,424.00 2186.25,425.60 2193.10,415.00 2199.40,409.40 2205.00,407.50 2211.00,428.10 2220.00,426.25 2228.75,421.90 2236.25,421.50 2240.00,420.00 2245.00,423.75 2255.00,417.50 2262.50,414.00 2270.00,408.75 2276.25,403.75 2282.50,405.25 2290.00,400.00 2301.25,391.25 2307.25,411.25 2315.00,411.25 2320.00,411.80 2323.30,412.70 2327.90,416.70 2332.90,412.50 2341.70,409.80 2350.00,409.00 2358.30,402.10 2365.40,399.80 2372.50,402.30 2385.80,397.10 2392.10,392.50 2397.90,357.10 2403.75,410.40 2414.60,408.50 2419.60,368.30 2424.60,407.30 2433.30,407.30 2438.00,404.60"/>
</g>
</g>
<rect x="122" y="18" width="2316" height="880" fill="none" stroke="#3d3d3d" stroke-width="2"/>
<rect x="170" y="66" width="998" height="174" fill="#fff" stroke="#6c6c6c" stroke-width="1.6"/>
<line x1="202" y1="109" x2="234" y2="109" stroke="#dc5b42" stroke-width="16" stroke-linecap="round"/>
<line x1="202" y1="109" x2="234" y2="109" stroke="#000" stroke-opacity="0.18" stroke-width="2" stroke-linecap="round"/>
<text class="lg" x="260" y="119.2" xml:space="preserve">OrderedSet&lt;Int&gt; append, reserving capacity</text>
<line x1="200" y1="153" x2="236" y2="153" stroke="#f5c087" stroke-width="12" stroke-linecap="round"/>
<line x1="200" y1="153" x2="236" y2="153" stroke="#000" stroke-opacity="0.18" stroke-width="2" stroke-linecap="round"/>
<text class="lg" x="260" y="163.2" xml:space="preserve">Set&lt;Int&gt; insert, reserving capacity</text>
<line x1="200" y1="197" x2="236" y2="197" stroke="#fbe58c" stroke-width="12" stroke-linecap="round"/>
<line x1="200" y1="197" x2="236" y2="197" stroke="#000" stroke-opacity="0.18" stroke-width="2" stroke-linecap="round"/>
<text class="lg" x="260" y="207.2" xml:space="preserve">std::unordered_set&lt;intptr_t&gt; insert, reserving capacity</text>
<text class="ax" x="109" y="903.0" text-anchor="end">1ns</text>
<text class="ax" x="2449" y="903.0">1ns</text>
<text class="ax" x="109" y="683.0" text-anchor="end">10ns</text>
<text class="ax" x="2449" y="683.0">10ns</text>
<text class="ax" x="109" y="463.0" text-anchor="end">100ns</text>
<text class="ax" x="2449" y="463.0">100ns</text>
<text class="ax" x="109" y="243.0" text-anchor="end">1µs</text>
<text class="ax" x="2449" y="243.0">1µs</text>
<text class="ax" x="109" y="23.0" text-anchor="end">10µs</text>
<text class="ax" x="2449" y="23.0">10µs</text>
<text class="ax" x="122.00" y="934" text-anchor="middle">1</text>
<text class="ax" x="218.50" y="934" text-anchor="middle">2</text>
<text class="ax" x="315.00" y="934" text-anchor="middle">4</text>
<text class="ax" x="411.50" y="934" text-anchor="middle">8</text>
<text class="ax" x="508.00" y="934" text-anchor="middle">16</text>
<text class="ax" x="604.50" y="934" text-anchor="middle">32</text>
<text class="ax" x="701.00" y="934" text-anchor="middle">64</text>
<text class="ax" x="797.50" y="934" text-anchor="middle">128</text>
<text class="ax" x="894.00" y="934" text-anchor="middle">256</text>
<text class="ax" x="990.50" y="934" text-anchor="middle">512</text>
<text class="ax" x="1087.00" y="934" text-anchor="middle">1k</text>
<text class="ax" x="1183.50" y="934" text-anchor="middle">2k</text>
<text class="ax" x="1280.00" y="934" text-anchor="middle">4k</text>
<text class="ax" x="1376.50" y="934" text-anchor="middle">8k</text>
<text class="ax" x="1473.00" y="934" text-anchor="middle">16k</text>
<text class="ax" x="1569.50" y="934" text-anchor="middle">32k</text>
<text class="ax" x="1666.00" y="934" text-anchor="middle">64k</text>
<text class="ax" x="1762.50" y="934" text-anchor="middle">128k</text>
<text class="ax" x="1859.00" y="934" text-anchor="middle">256k</text>
<text class="ax" x="1955.50" y="934" text-anchor="middle">512k</text>
<text class="ax" x="2052.00" y="934" text-anchor="middle">1M</text>
<text class="ax" x="2148.50" y="934" text-anchor="middle">2M</text>
<text class="ax" x="2245.00" y="934" text-anchor="middle">4M</text>
<text class="ax" x="2341.50" y="934" text-anchor="middle">8M</text>
<text class="ax" x="2438.00" y="934" text-anchor="middle">16M</text>
</svg></body></html>
